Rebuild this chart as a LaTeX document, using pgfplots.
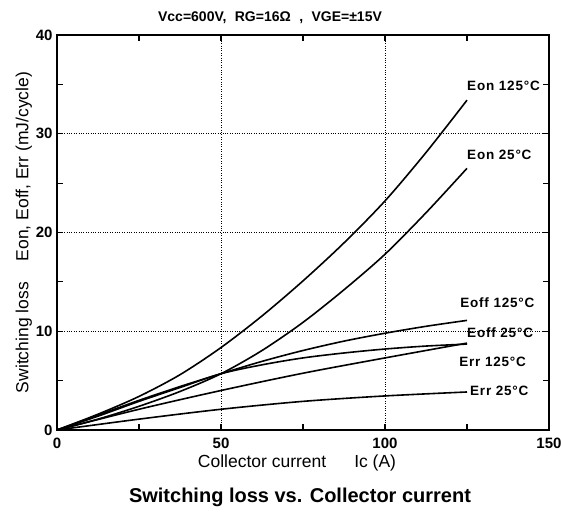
\documentclass[border=0pt]{standalone}
\usepackage{fontspec}
\setmainfont{Liberation Sans}
\newfontfamily\lblfont[LetterSpace=6]{Liberation Sans}
\usepackage{pgfplots}
\pgfplotsset{compat=1.18}

\begin{document}
\begin{tikzpicture}
\path[use as bounding box] (-57pt,-83pt) rectangle (504pt,430pt);
\begin{axis}[
  at={(0pt,0pt)}, anchor=south west,
  width=492pt, height=395pt, scale only axis,
  xmin=0, xmax=150, ymin=0, ymax=40,
  xtick={0,50,100,150}, ytick={0,10,20,30,40},
  minor xtick={25,75,125}, minor ytick={5,15,25,35},
  tick align=inside,
  major tick length=6pt, minor tick length=6pt,
  tick style={black, line width=1.2pt},
  axis line style={line width=2.2pt},
  grid=major,
  major grid style={black, dotted, line width=0.9pt},
  /pgf/number format/assume math mode=true,
  ticklabel style={font=\fontsize{15}{16}\selectfont\bfseries},
  xticklabel style={yshift=-4pt},
  yticklabel style={xshift=-1pt},
  xlabel={Collector current\hspace{1.6em}Ic (A)},
  xlabel style={font=\fontsize{17.5}{19}\selectfont, xshift=-6pt, yshift=0pt},
  ylabel={Switching loss\hspace{1.2em}Eon, Eoff, Err (mJ/cycle)},
  ylabel style={font=\fontsize{17.5}{19}\selectfont, yshift=-3pt},
  clip=false,
  cycle list={black, solid, mark=none\\},
  no markers,
  every axis plot post/.append style={line width=1.6pt, smooth, tension=0.5},
]
% Eon 125 C
\addplot coordinates {(0,0) (12.5,1.6) (25,3.4) (37.5,5.6) (50,8.35) (62.5,11.55) (75,15.1) (87.5,18.95) (100,23.2) (112.5,28.1) (125,33.4)};
% Eon 25 C
\addplot coordinates {(0,0) (12.5,1.1) (25,2.4) (37.5,3.9) (50,5.7) (62.5,8.05) (75,10.9) (87.5,14.2) (100,17.8) (112.5,22.0) (125,26.5)};
% Eoff 125 C
\addplot coordinates {(0,0) (12.5,1.5) (25,3.0) (37.5,4.4) (50,5.7) (62.5,6.95) (75,8.05) (87.5,9.0) (100,9.8) (112.5,10.5) (125,11.1)};
% Eoff 25 C
\addplot coordinates {(0,0) (12.5,1.4) (25,2.9) (37.5,4.3) (50,5.7) (62.5,6.6) (75,7.3) (87.5,7.8) (100,8.2) (112.5,8.5) (125,8.7)};
% Err 125 C
\addplot coordinates {(0,0) (25,2.1) (50,4.0) (75,5.75) (100,7.3) (125,8.8)};
% Err 25 C
\addplot coordinates {(0,0) (25,1.1) (50,2.1) (75,2.9) (100,3.45) (125,3.85)};

\begin{scope}[every node/.style={anchor=west, inner sep=0pt, font=\lblfont\fontsize{13.5}{15}\selectfont\bfseries}]
\node at (axis cs:125.0,34.85) {Eon 125°C};
\node at (axis cs:125.0,27.85) {Eon 25°C};
\node at (axis cs:122.9,12.88) {Eoff 125°C};
\node at (axis cs:125.0,9.82) {Eoff 25°C};
\node at (axis cs:122.6,6.89) {Err 125°C};
\node at (axis cs:125.9,3.95) {Err 25°C};
\end{scope}
\end{axis}
\node[font=\fontsize{14}{15}\selectfont\bfseries] at (213pt,412pt) {Vcc=600V,\hspace{0.6em}RG=16Ω\hspace{0.6em},\hspace{0.6em}VGE=±15V};
\node[font=\fontsize{20}{22}\selectfont\bfseries] at (243pt,-67pt) {Switching loss vs. Collector current};
\end{tikzpicture}
\end{document}
